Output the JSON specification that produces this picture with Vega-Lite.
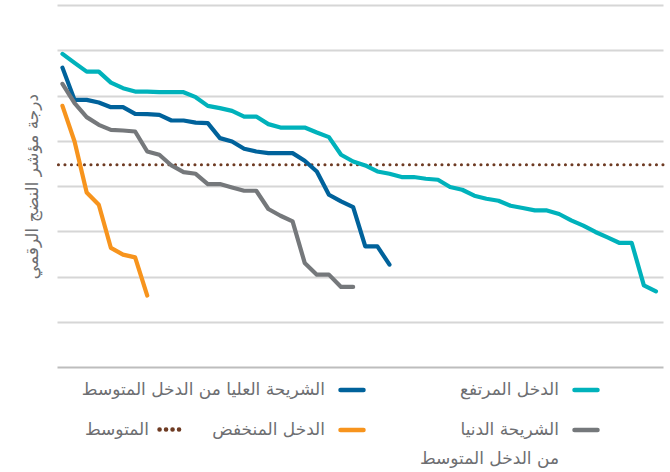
{
"$schema": "https://vega.github.io/schema/vega-lite/v6.json",
"width": 606, "height": 362,
"autosize": {"type": "none"},
"padding": {"left": 57, "top": 5, "right": 7, "bottom": 105},
"background": "white",
"config": {"view": {"stroke": null}, "font": "DejaVu Sans"},
"datasets": {
"avg": [{"g": "المتوسط", "v": 44.69}],
"series": [
{"g":"الدخل المرتفع","i":0,"v":69.19},{"g":"الدخل المرتفع","i":1,"v":67.2},{"g":"الدخل المرتفع","i":2,"v":65.28},{"g":"الدخل المرتفع","i":3,"v":65.28},{"g":"الدخل المرتفع","i":4,"v":62.85},{"g":"الدخل المرتفع","i":5,"v":61.62},{"g":"الدخل المرتفع","i":6,"v":60.87},{"g":"الدخل المرتفع","i":7,"v":60.87},{"g":"الدخل المرتفع","i":8,"v":60.73},{"g":"الدخل المرتفع","i":9,"v":60.73},
{"g":"الدخل المرتفع","i":10,"v":60.73},{"g":"الدخل المرتفع","i":11,"v":59.63},{"g":"الدخل المرتفع","i":12,"v":57.71},{"g":"الدخل المرتفع","i":13,"v":57.2},{"g":"الدخل المرتفع","i":14,"v":56.61},{"g":"الدخل المرتفع","i":15,"v":55.35},{"g":"الدخل المرتفع","i":16,"v":55.35},{"g":"الدخل المرتفع","i":17,"v":53.67},{"g":"الدخل المرتفع","i":18,"v":52.92},{"g":"الدخل المرتفع","i":19,"v":52.92},
{"g":"الدخل المرتفع","i":20,"v":52.92},{"g":"الدخل المرتفع","i":21,"v":51.82},{"g":"الدخل المرتفع","i":22,"v":50.8},{"g":"الدخل المرتفع","i":23,"v":46.9},{"g":"الدخل المرتفع","i":24,"v":45.42},{"g":"الدخل المرتفع","i":25,"v":44.54},{"g":"الدخل المرتفع","i":26,"v":43.21},{"g":"الدخل المرتفع","i":27,"v":42.7},{"g":"الدخل المرتفع","i":28,"v":41.98},{"g":"الدخل المرتفع","i":29,"v":41.98},
{"g":"الدخل المرتفع","i":30,"v":41.6},{"g":"الدخل المرتفع","i":31,"v":41.38},{"g":"الدخل المرتفع","i":32,"v":39.77},{"g":"الدخل المرتفع","i":33,"v":39.17},{"g":"الدخل المرتفع","i":34,"v":37.85},{"g":"الدخل المرتفع","i":35,"v":37.19},{"g":"الدخل المرتفع","i":36,"v":36.74},{"g":"الدخل المرتفع","i":37,"v":35.64},{"g":"الدخل المرتفع","i":38,"v":35.13},{"g":"الدخل المرتفع","i":39,"v":34.6},
{"g":"الدخل المرتفع","i":40,"v":34.6},{"g":"الدخل المرتفع","i":41,"v":33.81},{"g":"الدخل المرتفع","i":42,"v":32.4},{"g":"الدخل المرتفع","i":43,"v":31.23},{"g":"الدخل المرتفع","i":44,"v":29.84},{"g":"الدخل المرتفع","i":45,"v":28.65},{"g":"الدخل المرتفع","i":46,"v":27.41},{"g":"الدخل المرتفع","i":47,"v":27.41},{"g":"الدخل المرتفع","i":48,"v":18.05},{"g":"الدخل المرتفع","i":49,"v":16.73},
{"g":"الشريحة العليا من الدخل المتوسط","i":0,"v":66.16},{"g":"الشريحة العليا من الدخل المتوسط","i":1,"v":59.03},{"g":"الشريحة العليا من الدخل المتوسط","i":2,"v":59.03},{"g":"الشريحة العليا من الدخل المتوسط","i":3,"v":58.44},{"g":"الشريحة العليا من الدخل المتوسط","i":4,"v":57.42},{"g":"الشريحة العليا من الدخل المتوسط","i":5,"v":57.42},{"g":"الشريحة العليا من الدخل المتوسط","i":6,"v":55.94},
{"g":"الشريحة العليا من الدخل المتوسط","i":7,"v":55.88},{"g":"الشريحة العليا من الدخل المتوسط","i":8,"v":55.72},{"g":"الشريحة العليا من الدخل المتوسط","i":9,"v":54.47},{"g":"الشريحة العليا من الدخل المتوسط","i":10,"v":54.47},{"g":"الشريحة العليا من الدخل المتوسط","i":11,"v":54.02},{"g":"الشريحة العليا من الدخل المتوسط","i":12,"v":53.89},{"g":"الشريحة العليا من الدخل المتوسط","i":13,"v":50.58},
{"g":"الشريحة العليا من الدخل المتوسط","i":14,"v":49.83},{"g":"الشريحة العليا من الدخل المتوسط","i":15,"v":48.22},{"g":"الشريحة العليا من الدخل المتوسط","i":16,"v":47.63},{"g":"الشريحة العليا من الدخل المتوسط","i":17,"v":47.27},{"g":"الشريحة العليا من الدخل المتوسط","i":18,"v":47.27},{"g":"الشريحة العليا من الدخل المتوسط","i":19,"v":47.27},{"g":"الشريحة العليا من الدخل المتوسط","i":20,"v":45.57},
{"g":"الشريحة العليا من الدخل المتوسط","i":21,"v":43.21},{"g":"الشريحة العليا من الدخل المتوسط","i":22,"v":38.07},{"g":"الشريحة العليا من الدخل المتوسط","i":23,"v":36.59},{"g":"الشريحة العليا من الدخل المتوسط","i":24,"v":35.35},{"g":"الشريحة العليا من الدخل المتوسط","i":25,"v":26.66},{"g":"الشريحة العليا من الدخل المتوسط","i":26,"v":26.66},{"g":"الشريحة العليا من الدخل المتوسط","i":27,"v":22.62},
{"g":"الشريحة الدنيا من الدخل المتوسط","i":0,"v":62.57},{"g":"الشريحة الدنيا من الدخل المتوسط","i":1,"v":58.31},{"g":"الشريحة الدنيا من الدخل المتوسط","i":2,"v":55.22},{"g":"الشريحة الدنيا من الدخل المتوسط","i":3,"v":53.52},{"g":"الشريحة الدنيا من الدخل المتوسط","i":4,"v":52.41},{"g":"الشريحة الدنيا من الدخل المتوسط","i":5,"v":52.26},{"g":"الشريحة الدنيا من الدخل المتوسط","i":6,"v":52.04},
{"g":"الشريحة الدنيا من الدخل المتوسط","i":7,"v":47.63},{"g":"الشريحة الدنيا من الدخل المتوسط","i":8,"v":46.9},{"g":"الشريحة الدنيا من الدخل المتوسط","i":9,"v":44.54},{"g":"الشريحة الدنيا من الدخل المتوسط","i":10,"v":43.08},{"g":"الشريحة الدنيا من الدخل المتوسط","i":11,"v":42.7},{"g":"الشريحة الدنيا من الدخل المتوسط","i":12,"v":40.43},{"g":"الشريحة الدنيا من الدخل المتوسط","i":13,"v":40.43},
{"g":"الشريحة الدنيا من الدخل المتوسط","i":14,"v":39.68},{"g":"الشريحة الدنيا من الدخل المتوسط","i":15,"v":38.95},{"g":"الشريحة الدنيا من الدخل المتوسط","i":16,"v":38.95},{"g":"الشريحة الدنيا من الدخل المتوسط","i":17,"v":34.91},{"g":"الشريحة الدنيا من الدخل المتوسط","i":18,"v":33.43},{"g":"الشريحة الدنيا من الدخل المتوسط","i":19,"v":32.18},{"g":"الشريحة الدنيا من الدخل المتوسط","i":20,"v":23.0},
{"g":"الشريحة الدنيا من الدخل المتوسط","i":21,"v":20.41},{"g":"الشريحة الدنيا من الدخل المتوسط","i":22,"v":20.41},{"g":"الشريحة الدنيا من الدخل المتوسط","i":23,"v":17.7},{"g":"الشريحة الدنيا من الدخل المتوسط","i":24,"v":17.7},
{"g":"الدخل المنخفض","i":0,"v":57.71},{"g":"الدخل المنخفض","i":1,"v":49.83},{"g":"الدخل المنخفض","i":2,"v":38.58},{"g":"الدخل المنخفض","i":3,"v":35.86},{"g":"الدخل المنخفض","i":4,"v":26.31},{"g":"الدخل المنخفض","i":5,"v":24.83},{"g":"الدخل المنخفض","i":6,"v":24.23},{"g":"الدخل المنخفض","i":7,"v":15.78}
]
},
"layer": [
{
"data": {"name": "avg"},
"mark": {"type": "rule", "color": "#6e3b23", "strokeWidth": 3, "strokeCap": "round"},
"encoding": {
"y": {"field": "v", "type": "quantitative"},
"strokeDash": {"field": "g", "type": "nominal", "scale": {"domain": ["المتوسط"], "range": [[0.1, 6.4]]},
"legend": {"orient": "none", "legendX": 100, "legendY": 412, "title": null, "symbolType": "stroke", "symbolSize": 400, "symbolStrokeWidth": 4.5, "symbolStrokeColor": "#6e3b23", "labelAlign": "right", "labelOffset": -33, "labelFont": "DejaVu Sans", "labelFontSize": 17, "labelColor": "#6d6e71", "labelLimit": 400,
"encode": {"symbols": {"update": {"strokeCap": {"value": "round"}, "strokeDash": {"value": [0.1, 9]}}}}}}
}
},
{
"data": {"name": "series"},
"mark": {"type": "line", "strokeWidth": 4.2, "strokeJoin": "round", "strokeCap": "round"},
"encoding": {
"x": {"field": "i", "type": "quantitative", "scale": {"domain": [-0.45, 49.58], "nice": false, "zero": false},
"axis": {"title": null, "labels": false, "ticks": false, "grid": false, "domain": true, "domainColor": "#bdbdbd", "domainWidth": 2}},
"y": {"field": "v", "type": "quantitative", "scale": {"domain": [0, 80], "nice": false},
"axis": {"title": "درجة مؤشر النضج الرقمي", "titleFont": "DejaVu Sans", "titleFontSize": 17, "titleFontWeight": "normal", "titleColor": "#6d6e71", "titlePadding": 16,
"labels": false, "ticks": false, "domain": false, "grid": true, "values": [10, 20, 30, 40, 50, 60, 70, 80], "gridColor": "#d6d6d6", "gridWidth": 1.8}},
"color": {"field": "g", "type": "nominal",
"scale": {"domain": ["الشريحة العليا من الدخل المتوسط", "الدخل المنخفض", "الدخل المرتفع", "الشريحة الدنيا من الدخل المتوسط"], "range": ["#00629b", "#f7941d", "#00b2bb", "#75787b"]},
"legend": {"orient": "none", "legendX": 281, "legendY": 371, "columns": 2, "title": null, "symbolType": "stroke", "symbolSize": 529, "symbolStrokeWidth": 4.5,
"labelAlign": "right", "labelOffset": -41, "labelFont": "DejaVu Sans", "labelFontSize": 17, "labelColor": "#6d6e71", "labelLimit": 400, "columnPadding": 46, "rowPadding": 17,
"labelExpr": "datum.label == 'الشريحة الدنيا من الدخل المتوسط' ? ['الشريحة الدنيا', 'من الدخل المتوسط'] : datum.label",
"encode": {"symbols": {"update": {"strokeCap": {"value": "round"}}}, "labels": {"update": {"lineHeight": {"value": 29}}}}}}
}
}
]
}
